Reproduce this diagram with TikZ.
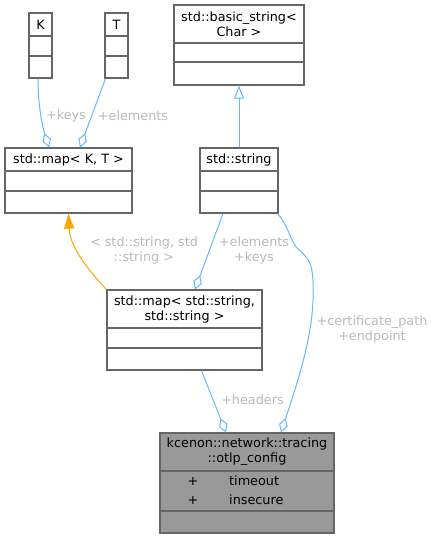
\documentclass[tikz,border=0pt]{standalone}
\usepackage{fontspec}
\setmainfont{DejaVu Sans}
\usepackage{tikz}
\usetikzlibrary{arrows.meta, positioning}
\usepackage{xcolor}

\begin{document}
\begin{tikzpicture}[x=1pt, y=-1pt,
    every node/.style={font=\fontsize{12.8}{15}\selectfont, inner sep=0pt},
    cls/.style={draw=boxline, line width=1.2pt, fill=white},
    sep/.style={boxline, line width=1.2pt},
    lbl/.style={text=lblgray, align=center},
    agg/.style={edgeblue, line width=1pt, -{Diamond[length=15pt, width=9pt, fill=white]}},
    inh/.style={edgeblue, line width=1pt, -{Triangle[length=13pt, width=10pt, fill=white]}},
    tmpl/.style={tmplorange, line width=1pt, -{Triangle[length=15pt, width=10pt]}}]

% --- COLORS ---
\definecolor{boxline}{RGB}{102, 102, 102}    % class borders
\definecolor{edgeblue}{RGB}{99, 184, 255}    % usage / inheritance
\definecolor{tmplorange}{RGB}{255, 165, 0}   % template instance
\definecolor{lblgray}{RGB}{185, 185, 185}    % edge labels
\definecolor{selfgray}{RGB}{153, 153, 153}   % documented class

\useasboundingbox (0,0) rectangle (435,539);

% --- TEMPLATE PARAMETERS (Top left) ---
\node[cls, minimum width=23, minimum height=65] (K) at (40.5,45.5) {};
\draw[sep] (29,36) -- (52,36) (29,56) -- (52,56);
\node (Kname) at (40.5,24.5) {K};

\node[cls, minimum width=23, minimum height=65] (T) at (116.5,45.5) {};
\draw[sep] (105,36) -- (128,36) (105,56) -- (128,56);
\node (Tname) at (116.5,24.5) {T};

% --- BASIC STRING (Top right) ---
\node[cls, minimum width=130, minimum height=80] (bstr) at (239,45) {};
\draw[sep] (174,43) -- (304,43) (174,62) -- (304,62);
\node[align=center] (bstrname) at (239,24) {std::basic\_string<\\Char >};

% --- MAP AND STRING (Middle) ---
\node[cls, minimum width=127, minimum height=65] (mapKT) at (68.5,180.5) {};
\draw[sep] (5,171) -- (132,171) (5,191) -- (132,191);
\node (mapKTname) at (68.5,160) {std::map< K, T >};

\node[cls, minimum width=78, minimum height=65] (str) at (239,180.5) {};
\draw[sep] (200,171) -- (278,171) (200,191) -- (278,191);
\node (strname) at (239,160) {std::string};

\node[cls, minimum width=155, minimum height=80] (mapSS) at (184.5,330) {};
\draw[sep] (107,328) -- (262,328) (107,348) -- (262,348);
\node[align=center] (mapSSname) at (184.5,309) {std::map< std::string,\\std::string >};

% --- OTLP CONFIG (Bottom) ---
\node[cls, fill=selfgray, minimum width=174, minimum height=100] (otlp) at (247,483) {};
\draw[sep] (160,471) -- (334,471) (160,511) -- (334,511);
\node[align=center] (otlpname) at (247,452) {kcenon::network::tracing\\::otlp\_config};
\node (plusA) at (193,481) {+};
\node[anchor=west] (timeout) at (229,481) {timeout};
\node (plusB) at (193,500) {+};
\node[anchor=west] (insecure) at (229,500) {insecure};

% --- EDGES ---
\draw[agg] ([xshift=-2.5pt]K.south) .. controls (38,100) and (41,122) .. ([xshift=-19.5pt]mapKT.north);
\draw[agg] ([xshift=-11pt]T.south) -- ([xshift=11.5pt]mapKT.north);
\node[lbl] (lblkeys) at (66,116) {+keys};
\node[lbl] (lblelem) at (133,116) {+elements};

\draw[inh] (str.north) -- (bstr.south);

\draw[tmpl] (mapSS.north west) .. controls (90,272) and (70,248) .. (mapKT.south);
\node[lbl] (lbltmpl) at (144,250) {< std::string, std\\::string >};

\draw[agg] ([xshift=-16pt]str.south) -- ([xshift=10.5pt]mapSS.north);
\node[lbl] (lblelkeys) at (254,250) {+elements\\+keys};

\draw[agg] ([xshift=-1pt]str.south east) .. controls (288,225) and (290,240) .. (297,248)
    .. controls (310,260) and (314,262) .. (313,300)
    .. controls (312,340) and (295,390) .. ([xshift=34pt]otlp.north);
\node[lbl] (lblcert) at (372,329) {+certificate\_path\\+endpoint};

\draw[agg] ([xshift=17pt]mapSS.south) -- ([xshift=-21pt]otlp.north);
\node[lbl] (lblheaders) at (252.5,400) {+headers};

\end{tikzpicture}
\end{document}
